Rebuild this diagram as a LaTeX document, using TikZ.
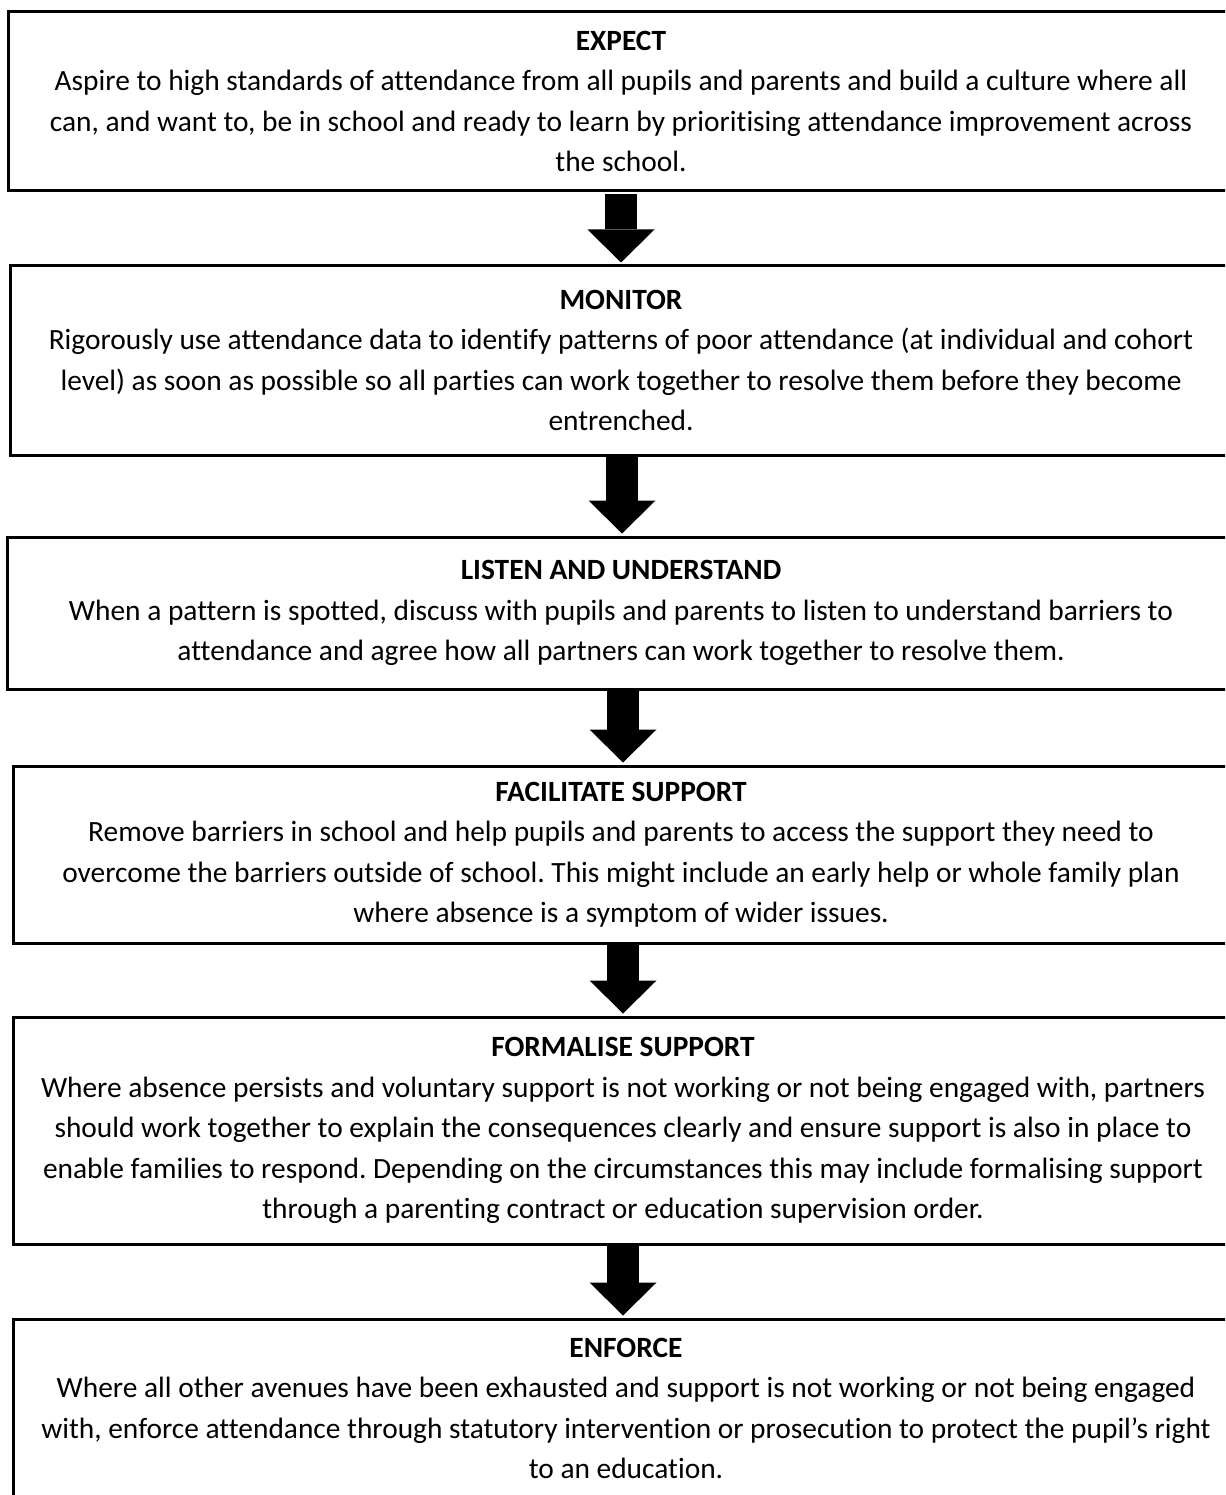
\documentclass[tikz,border=0pt]{standalone}
\usepackage{fontspec}
\setmainfont{Carlito}[Ligatures=NoCommon]
\usetikzlibrary{arrows.meta}
\frenchspacing
\begin{document}
\begin{tikzpicture}[x=1pt,y=-1pt,
  stage/.style={draw=black, line width=3pt, align=center, inner sep=0pt,
    font=\fontsize{29.4}{40.5}\selectfont},
  flow/.style={line width=32pt, -{Triangle[width=67pt,length=33pt,line width=0pt]}, shorten >=2pt}]
\useasboundingbox (0,0) rectangle (1225,1495);
\clip (0,0) rectangle (1225,1495);
\node[stage, minimum width=1226pt, minimum height=179pt] (b1) at (621,101.5)
  {\textbf{EXPECT}\\
   Aspire to high standards of attendance from all pupils and parents and build a culture where all\\
   can, and want to, be in school and ready to learn by prioritising attendance improvement across\\
   the school.};
\node[stage, minimum width=1222pt, minimum height=189pt] (b2) at (621,360.5)
  {\textbf{MONITOR}\\
   Rigorously use attendance data to identify patterns of poor attendance (at individual and cohort\\
   level) as soon as possible so all parties can work together to resolve them before they become\\
   entrenched.};
\node[stage, minimum width=1228pt, minimum height=152pt] (b3) at (621,613)
  {\textbf{LISTEN AND UNDERSTAND}\\
   When a pattern is spotted, discuss with pupils and parents to listen to understand barriers to\\
   attendance and agree how all partners can work together to resolve them.};
\node[stage, minimum width=1216pt, minimum height=177pt] (b4) at (621,854.5)
  {\textbf{FACILITATE SUPPORT}\\
   Remove barriers in school and help pupils and parents to access the support they need to\\
   overcome the barriers outside of school. This might include an early help or whole family plan\\
   where absence is a symptom of wider issues.};
\node[stage, minimum width=1220pt, minimum height=227pt] (b5) at (623,1130.5)
  {\textbf{FORMALISE SUPPORT}\\
   Where absence persists and voluntary support is not working or not being engaged with, partners\\
   should work together to explain the consequences clearly and ensure support is also in place to\\
   enable families to respond. Depending on the circumstances this may include formalising support\\
   through a parenting contract or education supervision order.};
\node[stage, minimum width=1226pt, minimum height=179pt] (b6) at (626,1408.5)
  {\textbf{ENFORCE}\\
   Where all other avenues have been exhausted and support is not working or not being engaged\\
   with, enforce attendance through statutory intervention or prosecution to protect the pupil’s right\\
   to an education.};
\draw[flow] ([yshift=-1.5pt]b1.south) -- (b2.north);
\draw[flow] ([xshift=1pt]b2.south) -- ([xshift=1pt]b3.north);
\draw[flow] ([xshift=2pt]b3.south) -- ([xshift=2pt]b4.north);
\draw[flow] ([xshift=2pt]b4.south) -- ([xshift=0pt]b5.north);
\draw[flow] ([xshift=0pt]b5.south) -- ([xshift=-3pt]b6.north);
\end{tikzpicture}
\end{document}
